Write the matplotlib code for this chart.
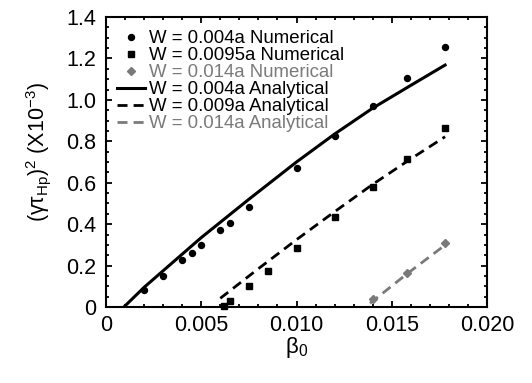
import matplotlib
matplotlib.use("Agg")
import matplotlib.pyplot as plt
from matplotlib.ticker import MultipleLocator, FixedLocator

plt.rcParams['font.family'] = ['Liberation Sans', 'DejaVu Sans']
plt.rcParams['mathtext.fontset'] = 'custom'
plt.rcParams['mathtext.rm'] = 'Liberation Sans'
plt.rcParams['mathtext.it'] = 'Liberation Sans:italic'

# Numerical data
num1_x = [0.002, 0.003, 0.004, 0.0045, 0.005, 0.006, 0.0065, 0.0075, 0.010, 0.012, 0.014, 0.0158, 0.0178]
num1_y = [0.082, 0.151, 0.225, 0.262, 0.299, 0.370, 0.407, 0.484, 0.669, 0.826, 0.970, 1.104, 1.257]

num2_x = [0.0062, 0.0065, 0.0075, 0.0085, 0.010, 0.012, 0.014, 0.0158, 0.0178]
num2_y = [0.003, 0.030, 0.103, 0.175, 0.286, 0.433, 0.581, 0.716, 0.863]

num3_x = [0.0140, 0.0158, 0.0178]
num3_y = [0.037, 0.163, 0.307]

# Analytical curves
ana1_x = [0.00094, 0.002, 0.003, 0.005, 0.0075, 0.010, 0.012, 0.014, 0.016, 0.0178]
ana1_y = [0.0, 0.095, 0.175, 0.335, 0.52, 0.70, 0.835, 0.96, 1.07, 1.168]

ana2_x = [0.0060, 0.008, 0.010, 0.012, 0.014, 0.016, 0.0178]
ana2_y = [0.042, 0.185, 0.325, 0.46, 0.592, 0.715, 0.822]

ana3_x = [0.01386, 0.0158, 0.0178]
ana3_y = [0.018, 0.160, 0.299]

labels = ["W = 0.004a Numerical", "W = 0.0095a Numerical", "W = 0.014a Numerical",
          "W = 0.004a Analytical", "W = 0.009a Analytical", "W = 0.014a Analytical"]

xticks = [0, 0.005, 0.010, 0.015, 0.020]
xticklabels = ["0", "0.005", "0.010", "0.015", "0.020"]
yticks = [0, 0.2, 0.4, 0.6, 0.8, 1.0, 1.2, 1.4]
yticklabels = ["0", "0.2", "0.4", "0.6", "0.8", "1.0", "1.2", "1.4"]

GRAY = '#7a7a7a'

fig = plt.figure(figsize=(5.32, 3.83), dpi=100)
ax = fig.add_axes([106/532, 1-307/383, 381/532, 290/383])

h1, = ax.plot(num1_x, num1_y, 'o', color='black', ms=4.3, ls='none', label=labels[0])
h2, = ax.plot(num2_x, num2_y, 's', color='black', ms=4.3, ls='none', label=labels[1], clip_on=False)
h3, = ax.plot(num3_x, num3_y, 'D', color=GRAY, ms=3.6, ls='none', label=labels[2])
h4, = ax.plot(ana1_x, ana1_y, '-', color='black', lw=2.2, label=labels[3])
h5, = ax.plot(ana2_x, ana2_y, color='black', lw=2.0, ls=(0, (3.6, 2.2)), label=labels[4])
h6, = ax.plot(ana3_x, ana3_y, color=GRAY, lw=2.0, ls=(0, (3.6, 2.2)), label=labels[5])

ax.set_xlim(0, 0.020)
ax.set_ylim(0, 1.4)
ax.xaxis.set_major_locator(FixedLocator(xticks))
ax.set_xticklabels(xticklabels)
ax.yaxis.set_major_locator(FixedLocator(yticks))
ax.set_yticklabels(yticklabels)
ax.xaxis.set_minor_locator(MultipleLocator(0.001))
ax.yaxis.set_minor_locator(MultipleLocator(0.05))

ax.tick_params(which='both', direction='in', top=True, right=True, width=1.3)
ax.tick_params(which='major', length=4.5, labelsize=15.5)
ax.tick_params(axis='x', which='major', pad=6)
ax.tick_params(axis='y', which='major', pad=7)
ax.tick_params(which='minor', length=2.5)
for s in ax.spines.values():
    s.set_linewidth(1.5)

ax.set_xlabel('β$_{\\mathrm{0}}$', fontsize=16)
ax.xaxis.set_label_coords(0.5, -0.095)
ax.set_ylabel('(γτ$_{\\mathrm{Hp}}$)$^{\\mathrm{2}}$ (X10$^{\\mathrm{-3}}$)', fontsize=15.5)
ax.yaxis.set_label_coords(-0.14, 0.535)

leg = ax.legend(handles=[h1, h2, h3, h4, h5, h6], loc='upper left',
                bbox_to_anchor=(0.03, 0.955), frameon=False, fontsize=13.4,
                handlelength=1.5, handletextpad=0.22, labelspacing=0.0,
                borderpad=0, borderaxespad=0)
for txt, c in zip(leg.get_texts(), ['black', 'black', GRAY, 'black', 'black', GRAY]):
    txt.set_color(c)

fig.savefig('out.png', dpi=100)
